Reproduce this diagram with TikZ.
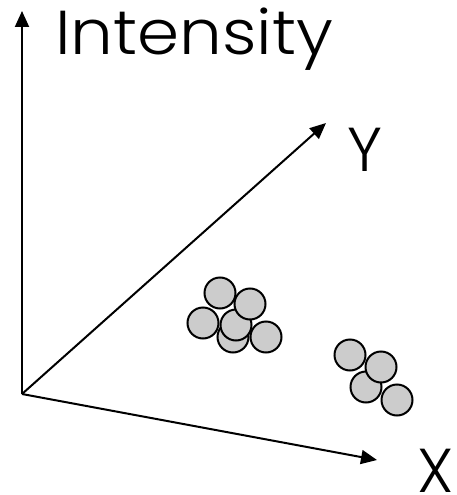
\documentclass[tikz,border=0pt]{standalone}
\usepackage{fontspec}
\setmainfont{Poppins}[UprightFont=* Light]
\usetikzlibrary{arrows.meta}
\begin{document}
\begin{tikzpicture}[x=1pt,y=-1pt,
  axis/.style={line width=2pt,-{Triangle[length=16pt,width=14pt]}},
  dot/.style={circle,draw=black,fill=gray!40,line width=2pt,minimum size=31pt,inner sep=0pt},
  lab/.style={font=\fontsize{62}{62}\selectfont,inner sep=0pt}]
\path[use as bounding box] (0,0) rectangle (457,495);
\coordinate (o) at (22,394);
\coordinate (iz) at (22,11);
\coordinate (yy) at (326,123);
\coordinate (xx) at (377,460);
\draw[axis] (o) -- (iz);
\draw[axis] (o) -- (yy);
\draw[axis] (o) -- (xx);
\node[lab,anchor=base west] (ti) at (55,55) {\scalebox{1.09}[1]{Intensity}};
\node[lab,anchor=base west] (ty) at (347,171) {Y};
\node[lab,anchor=base west] (tx) at (417,492) {X};
% cluster 1
\node[dot] (a1) at (203,323) {};
\node[dot] (a2) at (220,293) {};
\node[dot] (a3) at (233,337) {};
\node[dot] (a4) at (236,325) {};
\node[dot] (a5) at (250,304) {};
\node[dot] (a6) at (266,337) {};
% cluster 2
\node[dot] (b1) at (350,355) {};
\node[dot] (b2) at (366,387) {};
\node[dot] (b3) at (381,367) {};
\node[dot] (b4) at (397,400) {};
\end{tikzpicture}
\end{document}
